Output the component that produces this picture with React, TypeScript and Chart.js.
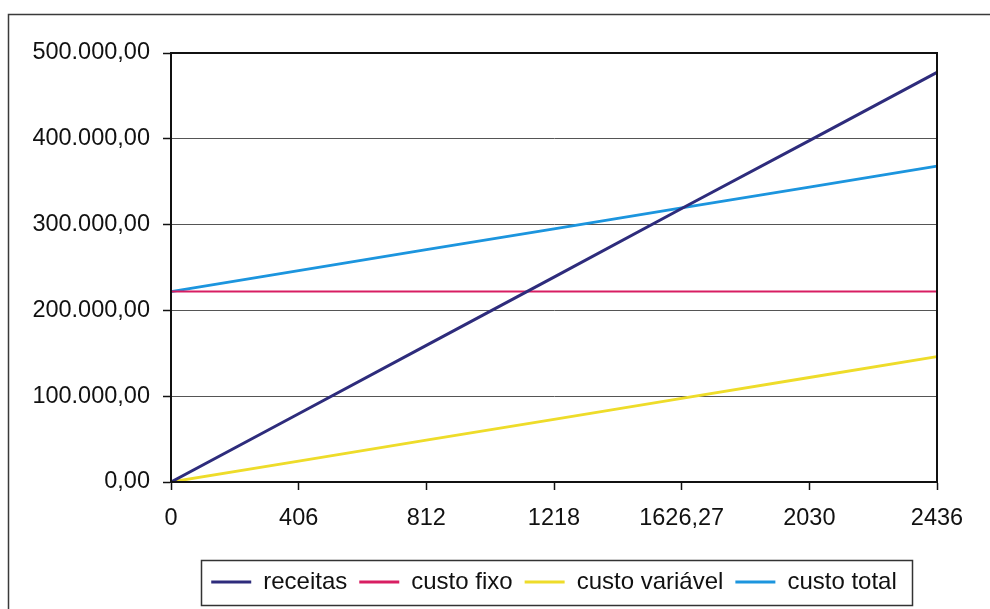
import React, { useEffect, useRef } from "react";
import { Chart, registerables } from "chart.js";

Chart.register(...registerables);

// Quantities on the category axis
const categories = ["0", "406", "812", "1218", "1626,27", "2030", "2436"];

// Series values (R$)
const receitas = [0, 79576, 159152, 238728, 318749, 397880, 477456];
const custoFixo = [222000, 222000, 222000, 222000, 222000, 222000, 222000];
const custoVariavel = [0, 24360, 48720, 73080, 97576, 121800, 146160];
const custoTotal = [222000, 246360, 270720, 295080, 319576, 343800, 368160];

// Value axis ticks
const yTickValues = [0, 100000, 200000, 300000, 400000, 500000];
const yTickLabels = ["0,00", "100.000,00", "200.000,00", "300.000,00", "400.000,00", "500.000,00"];

const FONT = "'Liberation Sans', Arial, sans-serif";

const framePlugin = {
  id: "frame",
  beforeDraw(chart: any) {
    const { ctx, width, height } = chart;
    ctx.save();
    ctx.fillStyle = "#ffffff";
    ctx.fillRect(0, 0, width, height);
    // outer chart border
    ctx.strokeStyle = "#3a3a3a";
    ctx.lineWidth = 1.5;
    ctx.beginPath();
    ctx.moveTo(width, 14.5);
    ctx.lineTo(8.5, 14.5);
    ctx.lineTo(8.5, height);
    ctx.stroke();
    ctx.restore();
  },
  afterDraw(chart: any) {
    const { ctx, chartArea } = chart;
    ctx.save();
    // plot area border
    ctx.strokeStyle = "#111111";
    ctx.lineWidth = 2;
    ctx.strokeRect(chartArea.left, chartArea.top, chartArea.right - chartArea.left, chartArea.bottom - chartArea.top);
    // legend border
    const boxes = chart.legend && chart.legend.legendHitBoxes;
    if (boxes && boxes.length) {
      const first = boxes[0];
      const last = boxes[boxes.length - 1];
      const cy = first.top + first.height / 2;
      const left = first.left - 10;
      const right = last.left + last.width + 15;
      ctx.strokeStyle = "#333333";
      ctx.lineWidth = 1.5;
      ctx.strokeRect(Math.round(left) + 0.5, Math.round(cy - 22) + 0.5, Math.round(right - left), 45);
    }
    ctx.restore();
  },
};

export default function App() {
  const ref = useRef<HTMLCanvasElement | null>(null);

  useEffect(() => {
    if (!ref.current) return;
    const mk = (label: string, data: number[], color: string, w: number) => ({
      label,
      data,
      borderColor: color,
      backgroundColor: color,
      borderWidth: w,
      pointRadius: 0,
      tension: 0,
      fill: false,
    });
    const chart = new Chart(ref.current, {
      type: "line",
      data: {
        labels: categories,
        datasets: [
          mk("receitas", receitas, "#2e2c7c", 3),
          mk("custo fixo", custoFixo, "#d81e62", 2.2),
          mk("custo variável", custoVariavel, "#eedc2a", 2.8),
          mk("custo total", custoTotal, "#1c95de", 2.8),
        ],
      },
      options: {
        responsive: false,
        animation: false,
        layout: { padding: { left: 0, right: 53, top: 53, bottom: 5 } },
        plugins: {
          tooltip: { enabled: false },
          legend: {
            position: "bottom",
            fullSize: false,
            labels: {
              font: { family: FONT, size: 24 },
              color: "#111111",
              boxWidth: 40,
              boxHeight: 3,
              padding: 12,
              generateLabels(chart: any) {
                const items = Chart.defaults.plugins.legend.labels.generateLabels(chart);
                return items.map((it: any) => ({ ...it, lineWidth: 0 }));
              },
            },
          },
        },
        scales: {
          x: {
            type: "category",
            offset: false,
            afterFit(scale: any) {
              scale.height = 76;
            },
            grid: {
              drawOnChartArea: false,
              drawTicks: true,
              tickLength: 8,
              tickColor: "#111111",
              tickWidth: 1.5,
              offset: false,
            },
            border: { color: "#111111", width: 2 },
            ticks: {
              font: { family: FONT, size: 23.5 },
              color: "#111111",
              padding: 14,
              maxRotation: 0,
              autoSkip: false,
            },
          },
          y: {
            min: 0,
            max: 500000,
            afterFit(scale: any) {
              scale.width = 171;
            },
            afterBuildTicks(scale: any) {
              scale.ticks = yTickValues.map((v) => ({ value: v }));
            },
            grid: {
              color: "#555555",
              lineWidth: 1,
              tickLength: 8,
              tickColor: "#111111",
              tickWidth: 1.5,
            },
            border: { color: "#111111", width: 2 },
            ticks: {
              font: { family: FONT, size: 23.5 },
              color: "#111111",
              padding: 13,
              callback: (_v: any, i: number) => yTickLabels[i],
            },
          },
        },
      },
      plugins: [framePlugin],
    });
    return () => chart.destroy();
  }, []);

  return (
    <div style={{ position: "absolute", left: 0, top: 0, width: 990, height: 609, background: "#fff" }}>
      <canvas ref={ref} width={990} height={609} style={{ display: "block" }} />
    </div>
  );
}
